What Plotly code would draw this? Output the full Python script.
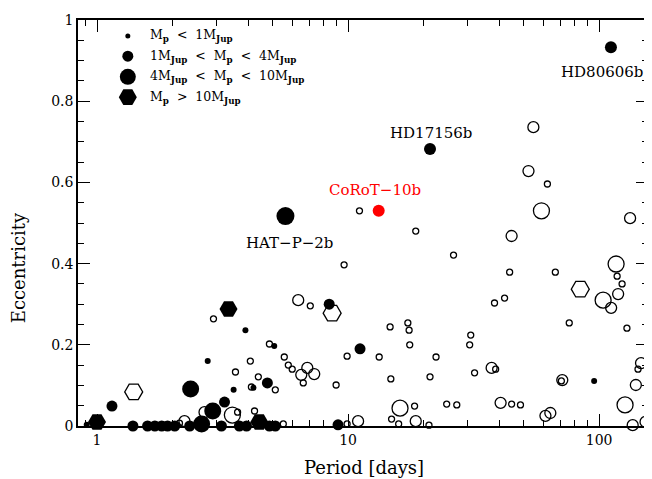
import numpy as np
import plotly.graph_objects as go

# ---------------- data (period [days], eccentricity) ----------------
# filled symbols
fsmall_P = [2.76, 3.90, 5.08, 3.50, 4.20, 95.5, 0.91]
fsmall_e = [0.160, 0.236, 0.197, 0.089, 0.094, 0.111, 0.003]

fmed_P = [1.147, 3.22, 4.77, 8.41, 11.16, 9.12,
          1.39, 1.59, 1.70, 1.81, 1.91, 2.04, 2.34, 3.13, 3.69, 3.94, 4.86, 5.13]
fmed_e = [0.049, 0.059, 0.106, 0.300, 0.190, 0.003,
          0.0, 0.0, 0.0, 0.0, 0.0, 0.0, 0.0, 0.0, 0.0, 0.0, 0.0, 0.0]

flarge_P = [2.36, 2.89, 2.61]
flarge_e = [0.091, 0.037, 0.005]

fhex_P = [3.34, 4.43, 1.00]
fhex_e = [0.288, 0.010, 0.010]

# open symbols
osmall_P = [18.6, 11.1, 9.64, 26.3, 44.0, 66.9, 62.2, 117.9, 123.4, 129.0, 76.0, 42.0,
            38.3, 14.7, 17.3, 17.5, 17.6, 13.3, 22.4, 30.8, 30.5, 14.8, 21.2, 31.9,
            38.7, 70.7, 142.8, 14.9, 18.4, 24.7, 27.1, 44.8, 48.6, 8.96, 5.13, 6.63,
            2.91, 7.07, 4.86, 9.91, 4.08, 5.57, 5.78, 5.99, 3.56, 4.39, 4.12, 3.63,
            4.24, 2.13, 5.52, 9.91, 15.9, 21.0]
osmall_e = [0.480, 0.530, 0.397, 0.421, 0.379, 0.379, 0.596, 0.369, 0.350, 0.241, 0.254, 0.315,
            0.303, 0.244, 0.254, 0.236, 0.200, 0.170, 0.170, 0.224, 0.200, 0.116, 0.121, 0.131,
            0.140, 0.111, 0.140, 0.017, 0.049, 0.054, 0.052, 0.054, 0.052, 0.101, 0.089, 0.106,
            0.264, 0.296, 0.202, 0.172, 0.160, 0.170, 0.150, 0.140, 0.133, 0.121, 0.096, 0.034,
            0.037, 0.007, 0.005, 0.005, 0.005, 0.002]

omed_P = [54.7, 52.3, 132.8, 44.8, 119.0, 111.6, 6.33, 6.88, 6.51, 7.33, 37.3, 71.3,
          140.0, 146.8, 40.5, 61.1, 63.9, 18.6, 10.96, 2.68, 2.23, 136.0, 153.0]
omed_e = [0.736, 0.628, 0.512, 0.468, 0.325, 0.291, 0.310, 0.143, 0.126, 0.128, 0.143, 0.113,
          0.101, 0.155, 0.057, 0.025, 0.032, 0.012, 0.012, 0.034, 0.012, 0.002, 0.010]

olarge_P = [58.9, 116.8, 103.7, 126.8, 16.1, 3.46]
olarge_e = [0.530, 0.399, 0.310, 0.052, 0.044, 0.027]

ohex_P = [1.40, 8.64, 84.1]
ohex_e = [0.084, 0.278, 0.337]

# labelled planets
named = ["HD80606b", "HD17156b", "HAT\u2212P\u22122b"]
named_P = [111.4, 21.2, 5.63]
named_e = [0.933, 0.682, 0.517]
named_size = [12, 12, 18]

corot_name = "CoRoT\u221210b"
corot_P = [13.24]
corot_e = [0.53]

legend_labels = [
    "M<sub><b>p</b></sub>\u00a0\u00a0<\u00a0\u00a01M<sub><b>Jup</b></sub>",
    "1M<sub><b>Jup</b></sub>\u00a0\u00a0<\u00a0\u00a0M<sub><b>p</b></sub>\u00a0\u00a0<\u00a0\u00a04M<sub><b>Jup</b></sub>",
    "4M<sub><b>Jup</b></sub>\u00a0\u00a0<\u00a0\u00a0M<sub><b>p</b></sub>\u00a0\u00a0<\u00a0\u00a010M<sub><b>Jup</b></sub>",
    "M<sub><b>p</b></sub>\u00a0\u00a0>\u00a0\u00a010M<sub><b>Jup</b></sub>",
]

FONT = "DejaVu Serif"
S_SMALL, S_MED, S_LARGE, S_HEX = 6, 11, 17, 18

fig = go.Figure()


def add(P, e, sym, size, color="black", lw=0.0, **kw):
    fig.add_trace(go.Scatter(
        x=P, y=e, mode="markers", cliponaxis=False, showlegend=False,
        hoverinfo="skip",
        marker=dict(symbol=sym, size=size, color=color, opacity=1,
                    line=dict(width=lw, color=color)), **kw))


# open first
add(ohex_P, ohex_e, "hexagon2-open", S_HEX, lw=1.3)
add(olarge_P, olarge_e, "circle-open", S_LARGE - 1, lw=1.3)
add(omed_P, omed_e, "circle-open", S_MED, lw=1.3)
add(osmall_P, osmall_e, "circle-open", S_SMALL, lw=1.3)
# filled
add(fhex_P, fhex_e, "hexagon2", S_HEX)
add(flarge_P, flarge_e, "circle", S_LARGE)
add(fmed_P, fmed_e, "circle", S_MED)
add(fsmall_P, fsmall_e, "circle", S_SMALL)
add(named_P, named_e, "circle", named_size)
add(corot_P, corot_e, "circle", 12, color="red")

# legend keys on an overlay axis
leg_y = [0.9606, 0.911, 0.860, 0.810]
add([0.0874] * 4, leg_y,
    ["circle", "circle", "circle", "hexagon2"],
    [5, 11, 16, 18], xaxis="x2", yaxis="y2")

ann = []
offs = [(-9, -25), (1, 16), (4, -27)]
for n, p, e, (dx, dy) in zip(named, named_P, named_e, offs):
    ann.append(dict(x=np.log10(p), y=e, text=n, showarrow=False, xshift=dx, yshift=dy,
                    font=dict(family=FONT, size=15, color="black")))
ann.append(dict(x=np.log10(corot_P[0]), y=corot_e[0], text=corot_name, showarrow=False,
                xshift=-4, yshift=21, font=dict(family=FONT, size=15, color="red")))
for lab, yy in zip(legend_labels, leg_y):
    ann.append(dict(x=0.1224, y=yy, xref="paper", yref="paper", text=lab, showarrow=False,
                    xanchor="left", yanchor="middle",
                    font=dict(family=FONT, size=12.5, color="black")))
ann.append(dict(x=0.502, y=-0.101, xref="paper", yref="paper", text="Period [days]",
                showarrow=False, xanchor="center", yanchor="middle",
                font=dict(family=FONT, size=18, color="black")))
ann.append(dict(x=-0.105, y=0.389, xref="paper", yref="paper", text="Eccentricity",
                showarrow=False, textangle=-90, xanchor="center", yanchor="middle",
                font=dict(family=FONT, size=18, color="black")))

minor_x = [0.9] + [k for k in range(2, 10)] + [10 * k for k in range(2, 10)]

# page body adds an 8px offset top/left, so the figure is 8px smaller and margins compensate
fig.update_layout(
    width=644, height=471,
    margin=dict(l=70, r=2, t=12, b=53),
    plot_bgcolor="white", paper_bgcolor="white",
    showlegend=False,
    annotations=ann,
    xaxis=dict(type="log", range=[np.log10(0.84), np.log10(156.5)],
               tickvals=[1, 10, 100], ticktext=["1", "10", "100"],
               ticks="inside", ticklen=12, tickwidth=1.2, tickcolor="black",
               showline=True, linecolor="black", linewidth=1.5, mirror="ticks",
               showgrid=False, zeroline=False,
               minor=dict(tickvals=minor_x, ticks="inside", ticklen=6,
                          tickwidth=1.2, tickcolor="black", showgrid=False),
               tickfont=dict(family=FONT, size=14, color="black")),
    yaxis=dict(range=[0, 1], tickvals=[0, 0.2, 0.4, 0.6, 0.8, 1],
               ticktext=["0", "0.2", "0.4", "0.6", "0.8", "1"],
               ticks="inside", ticklen=12, tickwidth=1.2, tickcolor="black",
               showline=True, linecolor="black", linewidth=1.5, mirror="ticks",
               showgrid=False, zeroline=False,
               minor=dict(dtick=0.05, ticks="inside", ticklen=6,
                          tickwidth=1.2, tickcolor="black", showgrid=False),
               tickfont=dict(family=FONT, size=14, color="black")),
    xaxis2=dict(overlaying="x", range=[0, 1], visible=False),
    yaxis2=dict(overlaying="y", range=[0, 1], visible=False),
)

fig.write_html("out.html")
